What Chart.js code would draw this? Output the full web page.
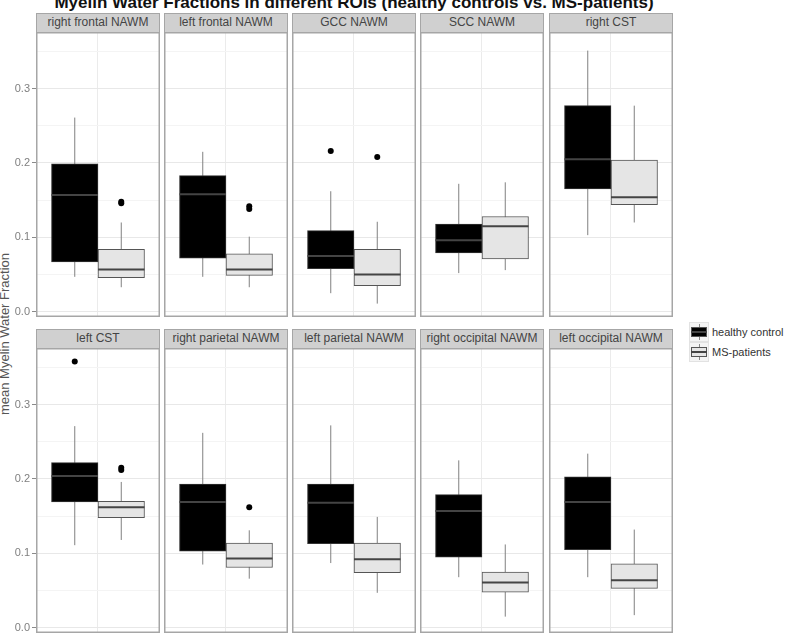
<!DOCTYPE html>
<html>
<head>
<meta charset="utf-8">
<script src="https://cdn.jsdelivr.net/npm/chart.js@4.4.0/dist/chart.umd.min.js"></script>
<style>
    body { margin: 0; background: #fff; font-family: Arial, "Liberation Sans", sans-serif; }
    #page { position: relative; width: 786px; height: 636px; overflow: hidden; }
    .panel { position: absolute; line-height: 0; }
    .panel canvas { display: block; }
    .strip {
        position: absolute; box-sizing: border-box; height: 20px;
        background: #d0d0d0; border: 1.5px solid #a6a6a6;
        font-size: 12px; line-height: 17px; color: #444; text-align: center;
    }
    #title {
        position: absolute; left: 0; width: 708px; top: -5px;
        font-size: 17px; font-weight: bold; line-height: 16px; color: #111; text-align: center;
    }
    #ylabel {
        position: absolute; left: 4.5px; top: 334px; width: 300px; height: 14px;
        font-size: 13px; line-height: 14px; color: #555; text-align: center;
        transform: translate(-50%, -50%) rotate(-90deg);
    }
    .key { position: absolute; left: 689px; width: 20px; height: 20px; background: #f4f4f4; border: 1px solid #e2e2e2; box-sizing: border-box; }
    .key .wh { position: absolute; left: 9px; top: 1px; width: 1px; height: 16px; background: #888; }
    .key .bx { position: absolute; left: 1px; top: 4px; width: 16px; height: 10px; box-sizing: border-box; border: 1px solid #555; }
    .key .md { position: absolute; left: 1px; top: 8px; width: 16px; height: 2px; background: #444; }
    .ktext { position: absolute; left: 712px; font-size: 11px; line-height: 14px; color: #333; }
</style>
</head>
<body>
<div id="page">
    <div id="title">Myelin Water Fractions in different ROIs (healthy controls vs. MS-patients)</div>
    <div id="ylabel">mean Myelin Water Fraction</div>

    <div class="key" style="top:322px"><div class="wh"></div><div class="bx" style="background:#000"></div><div class="md"></div></div>
    <div class="ktext" style="top:325px">healthy control</div>
    <div class="key" style="top:342px"><div class="wh"></div><div class="bx" style="background:#e5e5e5"></div><div class="md"></div></div>
    <div class="ktext" style="top:345px">MS-patients</div>
</div>

<script>
// Facets
const panelNames = [
    'right frontal NAWM', 'left frontal NAWM', 'GCC NAWM', 'SCC NAWM', 'right CST',
    'left CST', 'right parietal NAWM', 'left parietal NAWM', 'right occipital NAWM', 'left occipital NAWM'
];
const groups = ['healthy control', 'MS-patients'];

// healthy controls: whisker ends, quartiles, median, outliers
const hcLow  = [0.047, 0.047, 0.025, 0.052, 0.103, 0.111, 0.085, 0.087, 0.068, 0.068];
const hcQ1   = [0.067, 0.072, 0.058, 0.079, 0.165, 0.169, 0.103, 0.113, 0.095, 0.105];
const hcMed  = [0.157, 0.158, 0.075, 0.096, 0.205, 0.204, 0.169, 0.168, 0.157, 0.169];
const hcQ3   = [0.199, 0.183, 0.109, 0.118, 0.277, 0.222, 0.193, 0.193, 0.179, 0.203];
const hcHigh = [0.261, 0.215, 0.162, 0.172, 0.351, 0.271, 0.262, 0.272, 0.225, 0.234];
const hcOut  = [[], [], [0.216], [], [], [0.358], [], [], [], []];

// MS patients
const msLow  = [0.033, 0.033, 0.011, 0.056, 0.120, 0.118, 0.066, 0.047, 0.015, 0.017];
const msQ1   = [0.046, 0.049, 0.035, 0.071, 0.144, 0.148, 0.081, 0.074, 0.048, 0.053];
const msMed  = [0.057, 0.057, 0.050, 0.115, 0.154, 0.162, 0.093, 0.092, 0.061, 0.064];
const msQ3   = [0.084, 0.078, 0.084, 0.128, 0.204, 0.170, 0.114, 0.114, 0.075, 0.086];
const msHigh = [0.120, 0.101, 0.121, 0.174, 0.277, 0.196, 0.131, 0.149, 0.112, 0.132];
const msOut  = [[0.146, 0.148], [0.138, 0.142], [0.208], [], [], [0.212, 0.215], [0.162], [], [], []];

// y axis ticks
const majorTicks = [0, 0.1, 0.2, 0.3];
const minorTicks = [0.05, 0.15, 0.25, 0.35];

// layout (pixels)
const colLeft = [36, 164, 292, 420, 549];
const rowTop = [32, 348];
const panelW = 124, panelH = 285, axisW = 36;

// dodge like ggplot: one x slot at 1, two boxes of width 0.45
const dodge = 0.45;
const groupX = [1 - dodge / 2, 1 + dodge / 2];

const isMajor = v => majorTicks.some(m => Math.abs(m - v) < 1e-9);

// Draws the grey panel frame
const panelBorder = {
    id: 'panelBorder',
    afterDraw(chart) {
        const { ctx, chartArea: a } = chart;
        ctx.save();
        ctx.strokeStyle = '#a6a6a6';
        ctx.lineWidth = 1.5;
        ctx.strokeRect(a.left + 0.75, a.top + 0.75, a.width - 1.5, a.height - 1.5);
        ctx.restore();
    }
};

function boxDatasets(x, low, q1, med, q3, high, out, fill, edge) {
    return [
        {
            type: 'line', order: 5,
            data: [{ x: x, y: low }, { x: x, y: high }],
            borderColor: '#808080', borderWidth: 1, pointRadius: 0
        },
        {
            type: 'bar', order: 4,
            data: [{ x: x, y: [q1, q3] }],
            backgroundColor: fill, borderColor: edge, borderWidth: 1, borderSkipped: false,
            grouped: false, categoryPercentage: 1, barPercentage: 1
        },
        {
            type: 'line', order: 3,
            data: [{ x: x - dodge / 2, y: med }, { x: x + dodge / 2, y: med }],
            borderColor: '#444', borderWidth: 2, pointRadius: 0
        },
        {
            type: 'scatter', order: 1,
            data: out.map(v => ({ x: x, y: v })),
            pointRadius: 3, backgroundColor: '#000', borderColor: '#000', borderWidth: 0
        }
    ];
}

const page = document.getElementById('page');

panelNames.forEach((name, i) => {
    const row = Math.floor(i / 5), col = i % 5;
    const first = col === 0;
    const left = first ? colLeft[col] - axisW : colLeft[col];
    const width = first ? panelW + axisW : panelW;

    const strip = document.createElement('div');
    strip.className = 'strip';
    strip.style.left = colLeft[col] + 'px';
    strip.style.top = (rowTop[row] - 19) + 'px';
    strip.style.width = panelW + 'px';
    strip.textContent = name;

    const wrap = document.createElement('div');
    wrap.className = 'panel';
    wrap.style.left = left + 'px';
    wrap.style.top = rowTop[row] + 'px';
    const canvas = document.createElement('canvas');
    canvas.width = width;
    canvas.height = panelH;
    wrap.appendChild(canvas);
    page.appendChild(wrap);
    page.appendChild(strip);

    new Chart(canvas.getContext('2d'), {
        type: 'bar',
        data: {
            datasets: [
                ...boxDatasets(groupX[0], hcLow[i], hcQ1[i], hcMed[i], hcQ3[i], hcHigh[i], hcOut[i], '#000000', '#333333'),
                ...boxDatasets(groupX[1], msLow[i], msQ1[i], msMed[i], msQ3[i], msHigh[i], msOut[i], '#e5e5e5', '#555555')
            ]
        },
        options: {
            responsive: false,
            animation: false,
            layout: { padding: 0, autoPadding: false },
            plugins: { legend: { display: false }, tooltip: { enabled: false }, title: { display: false } },
            scales: {
                x: {
                    type: 'linear', min: 0.4, max: 1.6, offset: false, bounds: 'data',
                    afterBuildTicks: s => { s.ticks = [{ value: 1 }]; },
                    afterFit: s => {
                        s.height = 0;
                        s.paddingLeft = 0; s.paddingRight = 0; s.paddingTop = 0; s.paddingBottom = 0;
                    },
                    ticks: { display: false },
                    grid: { color: '#ebebeb', drawTicks: false, offset: false },
                    border: { display: false }
                },
                y: {
                    type: 'linear', min: -0.007, max: 0.376, offset: false, bounds: 'data',
                    afterBuildTicks: s => {
                        s.ticks = majorTicks.concat(minorTicks).sort((a, b) => a - b).map(v => ({ value: v }));
                    },
                    afterFit: s => {
                        s.width = first ? axisW : 0;
                        s.paddingLeft = 0; s.paddingRight = 0; s.paddingTop = 0; s.paddingBottom = 0;
                    },
                    ticks: {
                        display: first, autoSkip: false, padding: 2,
                        color: '#7f7f7f', font: { family: 'Arial', size: 11 },
                        callback: v => isMajor(v) ? v.toFixed(1) : ''
                    },
                    grid: {
                        color: c => isMajor(c.tick.value) ? '#e8e8e8' : '#f4f4f4',
                        drawTicks: first, tickLength: 4, offset: false,
                        tickColor: c => isMajor(c.tick.value) ? '#8a8a8a' : 'rgba(0,0,0,0)'
                    },
                    border: { display: false }
                }
            }
        },
        plugins: [panelBorder]
    });
});
</script>
</body>
</html>
